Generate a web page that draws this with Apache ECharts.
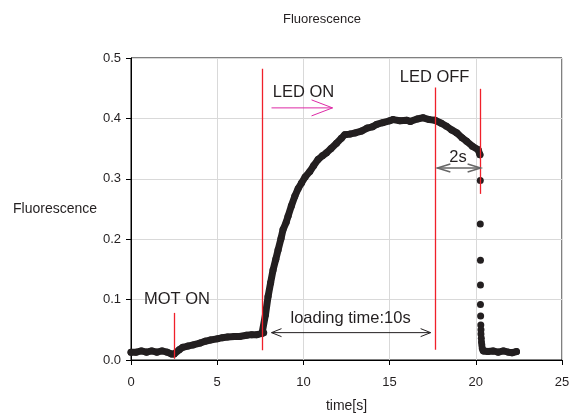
<!DOCTYPE html>
<html>
<head>
<meta charset="utf-8">
<script src="https://cdn.jsdelivr.net/npm/echarts@6/dist/echarts.min.js"></script>
<style>
  html, body { margin: 0; padding: 0; background: #fff; }
  #chart { width: 570px; height: 413px; }
</style>
</head>
<body>
<div id="chart"></div>
<script>
// fluorescence trace: [time s, signal]
var riseData = [
  [0, 0.013], [0.3, 0.013], [0.6, 0.015], [0.9, 0.013], [1.2, 0.015], [1.5, 0.013],
  [1.8, 0.015], [2.1, 0.013], [2.35, 0.010], [2.5, 0.010], [2.8, 0.017], [3.0, 0.021],
  [3.3, 0.023], [3.6, 0.025], [4.0, 0.028], [4.3, 0.031], [4.6, 0.033], [5.0, 0.035],
  [5.3, 0.037], [5.6, 0.038], [6.0, 0.039], [6.3, 0.039], [6.7, 0.041], [7.0, 0.042],
  [7.3, 0.042], [7.6, 0.044], [7.7, 0.045], [7.8, 0.075], [7.95, 0.105], [8.1, 0.128],
  [8.24, 0.149], [8.4, 0.167], [8.53, 0.182], [8.7, 0.201], [8.82, 0.216], [9.0, 0.228],
  [9.11, 0.238], [9.3, 0.255], [9.5, 0.271], [9.7, 0.284], [9.89, 0.293], [10.1, 0.303],
  [10.37, 0.312], [10.6, 0.322], [10.85, 0.332], [11.1, 0.338], [11.34, 0.343], [11.6, 0.35],
  [11.92, 0.359], [12.2, 0.367], [12.4, 0.373], [12.7, 0.374], [13.0, 0.376], [13.37, 0.379],
  [13.7, 0.384], [14.0, 0.386], [14.24, 0.39], [14.6, 0.393], [15.0, 0.396], [15.2, 0.398],
  [15.6, 0.396], [16.0, 0.397], [16.2, 0.395], [16.6, 0.399], [16.95, 0.401], [17.3, 0.398],
  [17.63, 0.397], [18.0, 0.392], [18.3, 0.387], [18.6, 0.381], [18.9, 0.376], [19.2, 0.368],
  [19.47, 0.362], [19.8, 0.354], [20.14, 0.348], [20.24, 0.340]
];
var dropData = [
  [20.26, 0.297], [20.26, 0.225], [20.27, 0.165], [20.27, 0.124], [20.27, 0.092],
  [20.28, 0.073], [20.29, 0.058], [20.3, 0.050], [20.3, 0.043], [20.32, 0.036],
  [20.33, 0.030], [20.35, 0.025], [20.37, 0.020], [20.4, 0.017]
];
var tailData = [
  [20.45, 0.015], [20.7, 0.014], [21.0, 0.015], [21.3, 0.013], [21.6, 0.015],
  [21.9, 0.013], [22.1, 0.012], [22.36, 0.014]
];

// red markers: [time, from, to]
var markerLines = [[2.48, 0.002, 0.078], [7.62, 0.016, 0.482], [17.66, 0.017, 0.451], [20.26, 0.275, 0.449]];

// annotations: [text, time, signal] (left edge, vertical middle)
var notes = [
  ['MOT ON', 0.75, 0.0995],
  ['LED ON', 8.22, 0.4423],
  ['LED OFF', 15.59, 0.467],
  ['2s', 18.46, 0.3355],
  ['loading time:10s', 9.25, 0.069]
];

// arrows: [x1, y1, x2, y2]
var ledOnArrow = [[8.15, 0.4174, 11.69, 0.4174]];
var twoSecArrow = [[17.77, 0.318, 20.28, 0.318]];
var loadingArrow = [[8.15, 0.0453, 17.38, 0.0453]];

var xTicks = { min: 0, max: 25, interval: 5 };
var yTicks = { min: 0, max: 0.5, interval: 0.1 };

var FONT = '"Liberation Sans", Arial, sans-serif';
var INK = '#231f20';

function arrowSeries(data, color, headLen, headHalf, both, width) {
  return {
    type: 'custom',
    data: data,
    silent: true,
    z: 6,
    encode: { x: [0, 2], y: [1, 3] },
    renderItem: function (params, api) {
      var a = api.coord([api.value(0), api.value(1)]);
      var b = api.coord([api.value(2), api.value(3)]);
      var dx = b[0] - a[0], dy = b[1] - a[1];
      var len = Math.sqrt(dx * dx + dy * dy);
      var ux = dx / len, uy = dy / len;
      var style = { stroke: color, fill: null, lineWidth: width };
      function head(p, ex, ey) {
        return [
          [p[0] - ex * headLen - ey * headHalf, p[1] - ey * headLen + ex * headHalf],
          [p[0], p[1]],
          [p[0] - ex * headLen + ey * headHalf, p[1] - ey * headLen - ex * headHalf]
        ];
      }
      var kids = [
        { type: 'line', shape: { x1: a[0], y1: a[1], x2: b[0], y2: b[1] }, style: style },
        { type: 'polyline', shape: { points: head(b, ux, uy) }, style: style }
      ];
      if (both) {
        kids.push({ type: 'polyline', shape: { points: head(a, -ux, -uy) }, style: style });
      }
      return { type: 'group', children: kids };
    }
  };
}

var chart = echarts.init(document.getElementById('chart'));

var traceLine = {
  type: 'line',
  showAllSymbol: true,
  symbol: 'circle',
  symbolSize: 7,
  itemStyle: { color: INK, opacity: 1 },
  lineStyle: { color: INK, width: 7, cap: 'round', join: 'round', opacity: 1 },
  z: 3
};

chart.setOption({
  backgroundColor: '#fff',
  animation: false,
  textStyle: { fontFamily: FONT },
  title: {
    text: 'Fluorescence',
    left: 278,
    top: 8,
    textStyle: { fontFamily: FONT, fontSize: 13, fontWeight: 'normal', color: INK }
  },
  grid: {
    left: 131, right: 8, top: 58, bottom: 53,
    outerBoundsMode: 'none',
    containLabel: false,
    show: true, borderColor: '#000', borderWidth: 1
  },
  xAxis: {
    type: 'value',
    min: xTicks.min, max: xTicks.max, interval: xTicks.interval,
    name: 'time[s]',
    nameLocation: 'middle',
    nameGap: 39,
    nameTextStyle: { fontFamily: FONT, fontSize: 14, color: INK },
    axisLine: { lineStyle: { color: '#000', width: 1 } },
    axisTick: { show: true, inside: false, length: 5, lineStyle: { color: '#000' } },
    axisLabel: { margin: 16, fontFamily: FONT, fontSize: 13, color: INK },
    splitLine: { show: true, lineStyle: { color: '#d9d9d9', width: 1 } }
  },
  yAxis: {
    type: 'value',
    min: yTicks.min, max: yTicks.max, interval: yTicks.interval,
    name: 'Fluorescence',
    nameLocation: 'middle',
    nameRotate: 0,
    nameGap: 74,
    nameTextStyle: { fontFamily: FONT, fontSize: 14, color: INK, align: 'center', verticalAlign: 'middle', padding: [0, 0, 6, 0] },
    axisLine: { show: true, lineStyle: { color: '#000', width: 1 } },
    axisTick: { show: true, inside: false, length: 5, lineStyle: { color: '#000' } },
    axisLabel: {
      margin: 10, fontFamily: FONT, fontSize: 13, color: INK,
      formatter: function (v) { return v.toFixed(1); }
    },
    splitLine: { show: true, lineStyle: { color: '#d9d9d9', width: 1 } }
  },
  series: [
    Object.assign({}, traceLine, { data: riseData }),
    {
      type: 'scatter',
      data: dropData,
      symbol: 'circle',
      symbolSize: 7,
      itemStyle: { color: INK, opacity: 1 },
      z: 3
    },
    Object.assign({}, traceLine, { data: tailData }),
    {
      type: 'custom',
      data: markerLines,
      silent: true,
      z: 5,
      encode: { x: 0, y: [1, 2] },
      renderItem: function (params, api) {
        var lo = api.coord([api.value(0), api.value(1)]);
        var hi = api.coord([api.value(0), api.value(2)]);
        var x = Math.round(lo[0]) + 0.5;
        return {
          type: 'line',
          shape: { x1: x, y1: lo[1], x2: x, y2: hi[1] },
          style: { stroke: '#f0202a', lineWidth: 1.3 }
        };
      }
    },
    {
      type: 'custom',
      data: notes,
      silent: true,
      z: 7,
      encode: { x: 1, y: 2 },
      renderItem: function (params, api) {
        var p = api.coord([api.value(1), api.value(2)]);
        return {
          type: 'text',
          x: p[0], y: p[1],
          style: {
            text: notes[params.dataIndex][0],
            fill: INK,
            font: '16.5px ' + FONT,
            align: 'left',
            verticalAlign: 'middle'
          }
        };
      }
    },
    arrowSeries(ledOnArrow, '#dd2aa6', 21, 8, false, 1),
    arrowSeries(twoSecArrow, '#666666', 13, 4, true, 1.5),
    arrowSeries(loadingArrow, '#231f20', 10, 4, true, 1)
  ]
});
</script>
</body>
</html>
